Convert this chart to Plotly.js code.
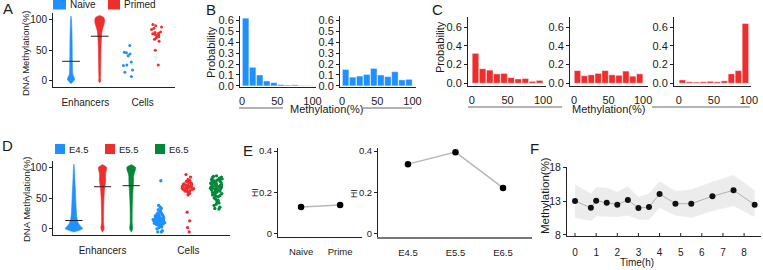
<!DOCTYPE html>
<html><head><meta charset="utf-8">
<script src="https://cdn.plot.ly/plotly-3.0.1.min.js"></script>
<style>html,body{margin:0;padding:0;background:#fff}#chart{width:763px;height:270px}</style>
</head><body><div id="chart"></div>
<script>
// ---------- DATA ----------
// Panel A
const aCategories = ['Enhancers', 'Cells'];
const aGroups = ['Naive', 'Primed'];
const aViolinLevelsNaive = [-4, 0, 3, 6, 10, 15, 20, 30, 40, 50, 60, 70, 80, 90, 100, 106];
const aViolinDensNaive   = [0, 0.7, 1, 0.8, 0.5, 0.42, 0.38, 0.35, 0.33, 0.32, 0.3, 0.28, 0.24, 0.19, 0.12, 0];
const aViolinLevelsPrimed = [-3, 0, 5, 10, 20, 30, 40, 50, 60, 70, 75, 80, 85, 90, 95, 100, 104, 107];
const aViolinDensPrimed   = [0, 0.2, 0.15, 0.18, 0.2, 0.22, 0.24, 0.26, 0.3, 0.36, 0.4, 0.46, 0.6, 0.8, 0.96, 1, 0.8, 0];
const aEnhancerMeans = [32, 73];
const aCellsNaive = [58, 47, 46, 44, 41, 31, 26, 25, 18, 14, 7];
const aCellsPrimed = [92, 90, 88, 86, 84, 80, 79, 78, 77, 76, 75, 74, 72, 70, 68, 65, 50, 26];

// Panel B (probability per methylation bin)
const binCenters = [5, 15, 25, 35, 45, 55, 65, 75, 85, 95];
const bNaiveEnh = [0.62, 0.17, 0.10, 0.045, 0.03, 0.012, 0.008, 0.01, 0.003, 0.003];
const bPrimedEnh = [0.15, 0.08, 0.09, 0.105, 0.16, 0.10, 0.085, 0.13, 0.055, 0.06];

// Panel C
const cE45 = [0.32, 0.155, 0.14, 0.10, 0.105, 0.06, 0.045, 0.05, 0.02, 0.03];
const cE55 = [0.135, 0.08, 0.09, 0.105, 0.135, 0.09, 0.085, 0.13, 0.075, 0.10];
const cE65 = [0.035, 0.015, 0.012, 0.015, 0.02, 0.015, 0.025, 0.10, 0.135, 0.64];

// Panel D
const dCategories = ['Enhancers', 'Cells'];
const dGroups = ['E4.5', 'E5.5', 'E6.5'];
const dLevelsE45 = [-5, -2, 0, 3, 6, 10, 15, 20, 30, 40, 50, 60, 70, 80, 90, 100, 105];
const dDensE45   = [0, 0.67, 1, 0.89, 0.67, 0.5, 0.39, 0.33, 0.28, 0.24, 0.21, 0.18, 0.14, 0.11, 0.08, 0.04, 0];
const dLevelsE55 = [-5, -2, 2, 5, 10, 20, 30, 40, 50, 60, 65, 70, 75, 80, 85, 90, 95, 100, 104];
const dDensE55   = [0, 0.3, 0.42, 0.35, 0.25, 0.25, 0.27, 0.3, 0.35, 0.45, 0.5, 0.6, 0.72, 0.78, 0.75, 0.78, 0.95, 1, 0];
const dLevelsE65 = [-5, -2, 2, 5, 10, 20, 30, 40, 50, 60, 70, 80, 85, 90, 95, 100, 104];
const dDensE65   = [0, 0.25, 0.35, 0.3, 0.23, 0.23, 0.25, 0.28, 0.33, 0.4, 0.5, 0.55, 0.55, 0.7, 0.95, 1, 0];
const dEnhancerMeans = [13.5, 68.3, 70];
const dCellsE45 = [78, 38, 35, 33, 31, 29, 27, 26, 25, 24, 23, 22, 22, 21, 20, 20, 19, 19, 18, 18, 17, 17, 16, 16, 16, 15, 15, 15, 14, 14, 14, 13, 13, 13, 12, 12, 12, 11, 11, 11, 10, 10, 9, 9, 8, 8, 7, 7, 6, 5, 4, 3, 2, 0, -3, -5, -5];
const dCellsE55 = [88, 84, 80, 78, 77, 76, 75, 74, 73, 72, 72, 71, 71, 70, 70, 69, 69, 68, 68, 68, 67, 67, 66, 66, 65, 65, 64, 64, 63, 62, 61, 60, 59, 58, 57, 55, 27, 13, 2, -5];
const dCellsE65 = [86, 85, 84, 83, 82, 81, 80, 80, 79, 78, 77, 77, 76, 75, 75, 74, 73, 73, 72, 72, 71, 70, 70, 69, 69, 68, 68, 67, 67, 66, 66, 65, 65, 64, 64, 63, 63, 62, 61, 60, 60, 59, 58, 57, 56, 55, 54, 53, 52, 50, 48, 46, 44, 42, 40, 38, 35, 33, 32];

// Panel E
const eCatsLeft = ['Naive', 'Prime'];
const eHILeft = [0.13, 0.14];
const eCatsRight = ['E4.5', 'E5.5', 'E6.5'];
const eHIRight = [0.337, 0.395, 0.222];

// Panel F
const fTime = [0, 0.75, 1, 1.5, 2, 2.5, 3, 3.5, 4, 4.75, 5.5, 6.5, 7.5, 8.5];
const fMean = [13.05, 12.05, 13.1, 12.8, 12.5, 13.2, 12.0, 12.15, 14.1, 12.65, 12.65, 13.75, 14.65, 12.5];
const fUpper = [15.5, 14.15, 15.1, 15.0, 14.4, 15.25, 13.65, 14.15, 16.0, 14.55, 14.75, 15.9, 16.9, 14.65];
const fLower = [10.57, 10.06, 10.8, 10.7, 10.66, 10.9, 10.3, 10.25, 12.0, 10.9, 10.57, 11.55, 12.3, 10.66];

// tick labels
const binTickVals = [0, 50, 100];
const probTickValsB = [0, 0.1, 0.2, 0.3, 0.4, 0.5, 0.6];
const probTickValsC = [0, 0.2, 0.4, 0.6];
const methTickVals = [0, 50, 100];
const hiTickVals = [0, 0.2, 0.4];
const hiTickText = ['0', '0.2', '0.4'];
const timeTickVals = [0, 1, 2, 3, 4, 5, 6, 7, 8];
const fTickVals = [8, 13, 18];

// ---------- STYLE ----------
const W = 763, H = 270;
const FONT = 'Liberation Sans, Arial, Helvetica, sans-serif';
const TXT = '#1a1a1a';
const BLUE = 'rgb(30,144,255)', RED = 'rgb(238,45,45)', GREEN = 'rgb(0,136,58)';
const dx = (a, b) => [a / W, b / W];
const dy = (top, bot) => [1 - bot / H, 1 - top / H];
const px = v => v / W, py = v => 1 - v / H;

const traces = [];

function violin(xa, ya, center, levels, dens, maxHalf, color) {
  const xs = [], ys = [];
  levels.forEach((l, i) => { xs.push(center + dens[i] * maxHalf); ys.push(l); });
  for (let i = levels.length - 1; i >= 0; i--) { xs.push(center - dens[i] * maxHalf); ys.push(levels[i]); }
  traces.push({type: 'scatter', mode: 'lines', x: xs, y: ys, xaxis: xa, yaxis: ya, fill: 'toself',
    fillcolor: color, line: {color: color, width: 0.6, shape: 'spline', smoothing: 0.7}, hoverinfo: 'skip', showlegend: false});
}
function meanLine(xa, ya, center, val, half) {
  traces.push({type: 'scatter', mode: 'lines', x: [center - half, center + half], y: [val, val], xaxis: xa, yaxis: ya,
    line: {color: '#222', width: 1}, hoverinfo: 'skip', showlegend: false});
}
function strip(xa, ya, center, vals, color, w, size) {
  traces.push({type: 'box', x0: center, y: vals, xaxis: xa, yaxis: ya, boxpoints: 'all', jitter: 1, pointpos: 0,
    width: w, fillcolor: 'rgba(0,0,0,0)', line: {color: 'rgba(0,0,0,0)', width: 0}, whiskerwidth: 0,
    marker: {color: color, size: size}, hoverinfo: 'skip', showlegend: false});
}
function bars(xa, ya, vals, color) {
  traces.push({type: 'bar', x: binCenters.slice(), y: vals, xaxis: xa, yaxis: ya, width: 9.2,
    marker: {color: color, line: {color: 'rgba(255,255,255,0.7)', width: 0.6}}, hoverinfo: 'skip', showlegend: false});
}

// A
violin('x', 'y', 1, aViolinLevelsNaive, aViolinDensNaive, 0.13, BLUE);
violin('x', 'y', 2, aViolinLevelsPrimed, aViolinDensPrimed, 0.17, RED);
meanLine('x', 'y', 1, aEnhancerMeans[0], 0.31);
meanLine('x', 'y', 2, aEnhancerMeans[1], 0.31);
strip('x', 'y', 3, aCellsNaive, BLUE, 0.42, 3);
strip('x', 'y', 4, aCellsPrimed, RED, 0.42, 3);

// B
bars('x2', 'y2', bNaiveEnh, BLUE);
bars('x3', 'y3', bPrimedEnh, BLUE);
// C
bars('x4', 'y4', cE45, RED);
bars('x5', 'y5', cE55, RED);
bars('x6', 'y6', cE65, RED);

// D
violin('x7', 'y7', 1, dLevelsE45, dDensE45, 0.3, BLUE);
violin('x7', 'y7', 2, dLevelsE55, dDensE55, 0.14, RED);
violin('x7', 'y7', 3, dLevelsE65, dDensE65, 0.15, GREEN);
dEnhancerMeans.forEach((m, i) => meanLine('x7', 'y7', i + 1, m, 0.3));
strip('x7', 'y7', 4, dCellsE45, BLUE, 0.5, 3.3);
strip('x7', 'y7', 5, dCellsE55, RED, 0.5, 3.3);
strip('x7', 'y7', 6, dCellsE65, GREEN, 0.5, 3.3);

// E
traces.push({type: 'scatter', mode: 'lines+markers', x: eCatsLeft, y: eHILeft, xaxis: 'x8', yaxis: 'y8',
  line: {color: '#b8b8b8', width: 1.5}, marker: {color: '#000', size: 6.5}, hoverinfo: 'skip', showlegend: false});
traces.push({type: 'scatter', mode: 'lines+markers', x: eCatsRight, y: eHIRight, xaxis: 'x9', yaxis: 'y9',
  line: {color: '#b8b8b8', width: 1.5}, marker: {color: '#000', size: 6.5}, hoverinfo: 'skip', showlegend: false});

// F
traces.push({type: 'scatter', mode: 'lines', x: fTime, y: fUpper, xaxis: 'x10', yaxis: 'y10',
  line: {color: 'rgba(0,0,0,0)', width: 0}, hoverinfo: 'skip', showlegend: false});
traces.push({type: 'scatter', mode: 'lines', x: fTime, y: fLower, xaxis: 'x10', yaxis: 'y10', fill: 'tonexty',
  fillcolor: 'rgba(0,0,0,0.075)', line: {color: 'rgba(0,0,0,0)', width: 0}, hoverinfo: 'skip', showlegend: false});
traces.push({type: 'scatter', mode: 'lines+markers', x: fTime, y: fMean, xaxis: 'x10', yaxis: 'y10',
  line: {color: '#b0b0b0', width: 1}, marker: {color: '#111', size: 6}, hoverinfo: 'skip', showlegend: false});

// ---------- AXES ----------
function ax(domain, range, extra) {
  return Object.assign({domain: domain, range: range, showgrid: false, zeroline: false, showline: true,
    linecolor: '#222', linewidth: 1, ticks: 'outside', ticklen: 3, tickcolor: '#222', tickwidth: 1,
    showticklabels: true, tickfont: {family: FONT, size: 11, color: TXT}, fixedrange: true}, extra || {});
}
const hidden = (len) => ({ticks: 'outside', ticklen: len || 4, tickcolor: 'rgba(0,0,0,0)'});
const binTicks = () => ({tickvals: binTickVals.slice(), ticktext: binTickVals.map(String)});
const probB = () => ({tickvals: probTickValsB.slice(), ticktext: probTickValsB.map(v => v.toFixed(1))});
const probC = () => ({tickvals: probTickValsC.slice(), ticktext: probTickValsC.map(v => v.toFixed(1))});
const f = (size) => ({family: FONT, size: size, color: TXT});

const layout = {
  width: W, height: H, margin: {l: 0, r: 0, t: 0, b: 0}, paper_bgcolor: '#fff', plot_bgcolor: 'rgba(0,0,0,0)',
  showlegend: false, boxmode: 'overlay', bargap: 0,
  font: {family: FONT, color: TXT},
  // A
  xaxis: ax(dx(53, 175), [0.37, 4.63], Object.assign({anchor: 'y', tickvals: [1.5, 3.5], ticktext: aCategories.slice(), tickfont: f(10)}, hidden(6))),
  yaxis: ax(dy(13, 87), [-10, 111], {anchor: 'x', tickvals: methTickVals.slice(), tickfont: f(10)}),
  // B
  xaxis2: ax(dx(240, 316), [-3, 105], Object.assign({anchor: 'y2'}, binTicks(), hidden())),
  yaxis2: ax(dy(16, 87), [-0.01, 0.64], Object.assign({anchor: 'x2'}, probB())),
  xaxis3: ax(dx(340, 416), [-3, 105], Object.assign({anchor: 'y3'}, binTicks(), hidden())),
  yaxis3: ax(dy(16, 87), [-0.01, 0.64], Object.assign({anchor: 'x3'}, probB())),
  // C
  xaxis4: ax(dx(468, 546), [-5.5, 104], Object.assign({anchor: 'y4'}, binTicks(), hidden())),
  yaxis4: ax(dy(17, 86), [-0.03, 0.71], Object.assign({anchor: 'x4'}, probC())),
  xaxis5: ax(dx(570, 648), [-5.8, 107], Object.assign({anchor: 'y5'}, binTicks(), hidden())),
  yaxis5: ax(dy(17, 86), [-0.03, 0.71], Object.assign({anchor: 'x5'}, probC())),
  xaxis6: ax(dx(674, 751), [-7, 103], Object.assign({anchor: 'y6'}, binTicks(), hidden())),
  yaxis6: ax(dy(17, 86), [-0.03, 0.71], Object.assign({anchor: 'x6'}, probC())),
  // D
  xaxis7: ax(dx(53, 230), [0.27, 6.45], Object.assign({anchor: 'y7', tickvals: [2, 5], ticktext: dCategories.slice(), tickfont: f(10)}, hidden(6))),
  yaxis7: ax(dy(161, 235), [-10, 110], {anchor: 'x7', tickvals: methTickVals.slice(), tickfont: f(10)}),
  // E
  xaxis8: ax(dx(278, 362), [-0.59, 1.56], Object.assign({anchor: 'y8', type: 'category', tickfont: f(9.5)}, hidden(6))),
  yaxis8: ax(dy(148, 237), [-0.015, 0.415], {anchor: 'x8', tickvals: hiTickVals.slice(), ticktext: hiTickText.slice(), tickfont: f(9.5)}),
  xaxis9: ax(dx(378, 532), [-0.63, 2.61], Object.assign({anchor: 'y9', type: 'category', linecolor: '#777', linewidth: 1.5, tickfont: f(9.5)}, hidden(6))),
  yaxis9: ax(dy(148, 237), [-0.015, 0.415], {anchor: 'x9', tickvals: hiTickVals.slice(), ticktext: hiTickText.slice(), tickfont: f(9.5)}),
  // F
  xaxis10: ax(dx(567, 761), [-0.38, 8.8], {anchor: 'y10', tickvals: timeTickVals.slice(), ticks: 'outside', ticklen: 7, tickcolor: 'rgba(0,0,0,0)', tickfont: f(10)}),
  yaxis10: ax(dy(167, 236), [7.85, 18.1], {anchor: 'x10', tickvals: fTickVals.slice(), tickfont: f(10.5)}),
  shapes: [], annotations: []
};

// small inside tick marks along F's time axis, at the axis tick values
timeTickVals.forEach(t => {
  layout.shapes.push({type: 'line', xref: 'x10', yref: 'paper', x0: t, x1: t, y0: py(236), y1: py(233),
    line: {color: '#222', width: 1}});
});

// decorative lines around Methylation(%) titles
const grayLine = {color: '#666', width: 1};
[[239, 283, 108], [363, 412, 108], [468, 562, 107], [652, 750, 107]].forEach(([a, b, yy]) => {
  layout.shapes.push({type: 'line', xref: 'paper', yref: 'paper', x0: px(a), x1: px(b), y0: py(yy), y1: py(yy), line: grayLine});
});

function ann(text, x, y, size, opts) {
  layout.annotations.push(Object.assign({text: text, xref: 'paper', yref: 'paper', x: px(x), y: py(y),
    showarrow: false, font: f(size), xanchor: 'center', yanchor: 'middle'}, opts || {}));
}
// panel letters
ann('A', 8, 9, 15); ann('B', 211, 10, 15); ann('C', 437, 10, 15);
ann('D', 7, 145, 15); ann('E', 248, 150, 15); ann('F', 534, 148, 15);
// axis titles
ann('DNA Methylation(%)', 25, 53, 9.5, {textangle: -90});
ann('Probability', 211, 52, 11, {textangle: -90});
ann('Methylation(%)', 326, 109, 11);
ann('Probability', 440, 47, 11, {textangle: -90});
ann('Methylation(%)', 608, 109, 11);
ann('DNA Methylation(%)', 26, 199, 9.5, {textangle: -90});
ann('HI', 255, 192, 8.5, {textangle: -90});
ann('HI', 354, 194, 8.5, {textangle: -90});
ann('Methylation(%)', 545, 196, 11.5, {textangle: -90});
ann('Time(h)', 637, 262, 10);

// legends
function legendItem(x, y, w, h, color, label, size) {
  layout.shapes.push({type: 'rect', xref: 'paper', yref: 'paper', x0: px(x), x1: px(x + w), y0: py(y + h), y1: py(y),
    fillcolor: color, line: {width: 0}});
  ann(label, x + w + 2, y + h / 2, size, {xanchor: 'left'});
}
legendItem(53, 0, 13, 9.5, BLUE, aGroups[0], 10);
legendItem(108, 0, 12, 9.5, RED, aGroups[1], 10);
legendItem(55, 144, 10, 10, BLUE, dGroups[0], 9.5);
legendItem(105, 144, 10, 10, RED, dGroups[1], 9.5);
legendItem(155, 144, 10, 10, GREEN, dGroups[2], 9.5);

Plotly.newPlot('chart', traces, layout, {staticPlot: true, displayModeBar: false});
</script></body></html>
